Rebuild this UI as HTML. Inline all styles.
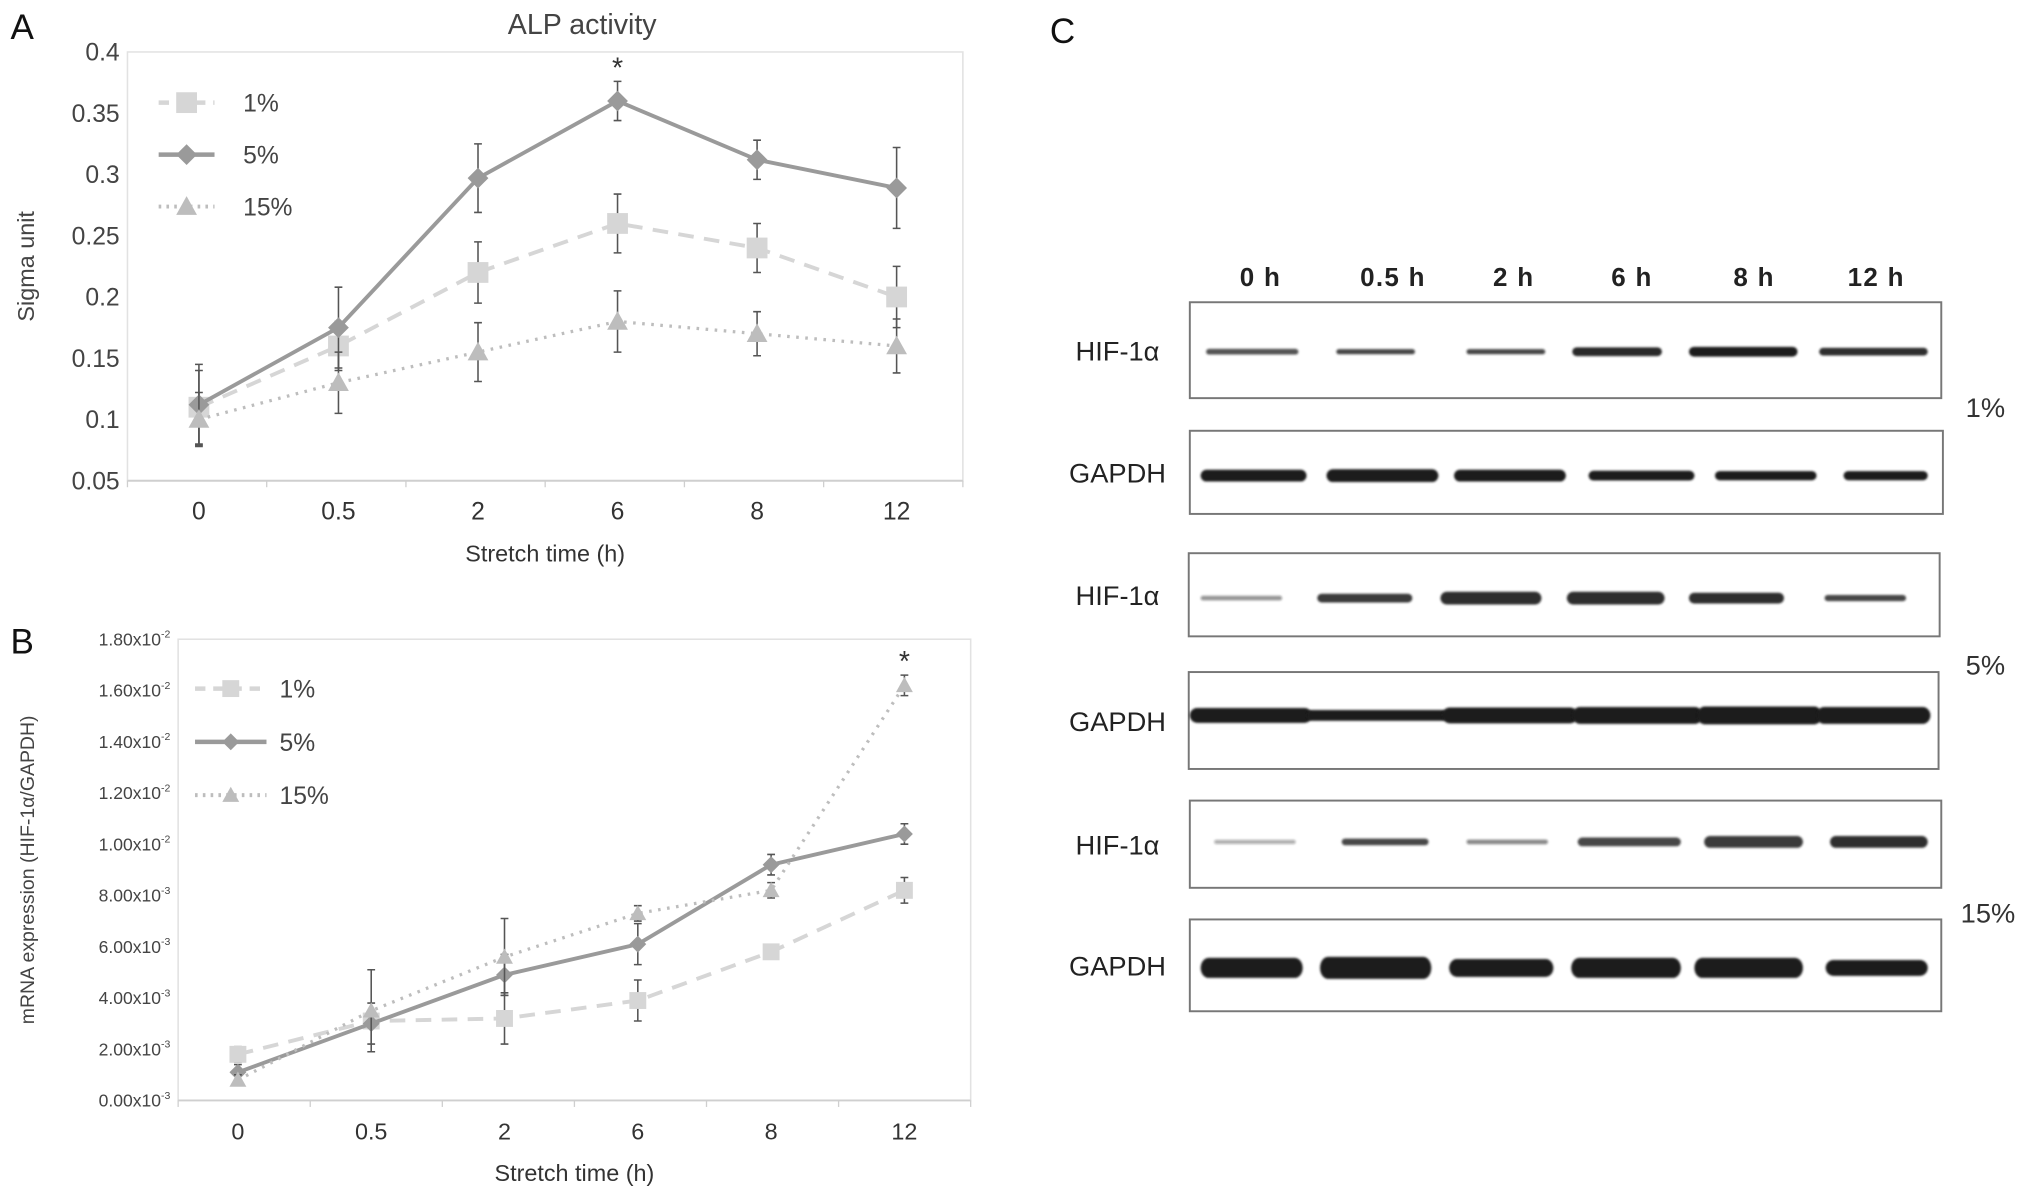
<!DOCTYPE html>
<html><head><meta charset="utf-8"><style>
html,body{margin:0;padding:0;background:#fff;}
svg{display:block;font-family:"Liberation Sans",sans-serif;}
</style></head><body>
<svg id="fig" width="2031" height="1194" viewBox="0 0 1563 919" xmlns="http://www.w3.org/2000/svg">
<defs><filter id="blur" x="-10%" y="-100%" width="120%" height="300%"><feGaussianBlur stdDeviation="0.8"/></filter></defs>
<text x="8" y="30" font-size="27" fill="#111">A</text>
<text x="8" y="503" font-size="27" fill="#111">B</text>
<text x="808" y="33" font-size="27" fill="#111">C</text>
<text x="448" y="26" font-size="22" fill="#444" text-anchor="middle">ALP activity</text>
<g id="chartA"></g>
<g id="chartB"></g>
<g id="blots"></g>
</svg>
<script>
const NS="http://www.w3.org/2000/svg";
function mk(p,tag,at,txt){const e=document.createElementNS(NS,tag);for(const k in at)e.setAttribute(k,at[k]);if(txt!==undefined)e.textContent=txt;p.appendChild(e);return e;}

// ---- data ----
const categories=["0","0.5","2","6","8","12"];
const seriesNames=["1%","5%","15%"];
const alp1=[0.11,0.16,0.22,0.26,0.24,0.20];
const alp5=[0.112,0.175,0.297,0.36,0.312,0.289];
const alp15=[0.10,0.13,0.155,0.18,0.17,0.16];
const alpErr1=[0.03,0.02,0.025,0.024,0.02,0.025];
const alpErr5=[0.033,0.033,0.028,0.016,0.016,0.033];
const alpErr15=[0.022,0.025,0.024,0.025,0.018,0.022];
const alpTicks=[0.05,0.1,0.15,0.2,0.25,0.3,0.35,0.4];
const alpTickLabels=["0.05","0.1","0.15","0.2","0.25","0.3","0.35","0.4"];
const mrna1=[1.8,3.1,3.2,3.9,5.8,8.2];
const mrna5=[1.1,3.0,4.9,6.1,9.2,10.4];
const mrna15=[0.8,3.5,5.6,7.3,8.2,16.2];
const mrnaErr1=[0.3,0.3,1.0,0.8,0.1,0.5];
const mrnaErr5=[0.3,0.8,0.8,0.8,0.4,0.4];
const mrnaErr15=[0.2,1.6,1.5,0.3,0.3,0.4];
const mrnaTicks=[0,2,4,6,8,10,12,14,16,18];
const mrnaTickMant=["0.00","2.00","4.00","6.00","8.00","1.00","1.20","1.40","1.60","1.80"];
const mrnaTickExp=["-3","-3","-3","-3","-3","-2","-2","-2","-2","-2"];

const styles=[{c:"#d6d6d6",w:3,d:"12 8",m:"sq"},{c:"#9a9a9a",w:3,d:"",m:"dia"},{c:"#bdbdbd",w:2.5,d:"2 5",m:"tri"}];

function marker(g,type,x,y,s,col){
  let e;
  if(type==="sq") e=mk(g,"rect",{x:x-s,y:y-s,width:2*s,height:2*s,fill:col});
  else if(type==="dia") e=mk(g,"path",{d:`M${x} ${y-s}L${x+s} ${y}L${x} ${y+s}L${x-s} ${y}Z`,fill:col});
  else e=mk(g,"path",{d:`M${x} ${y-s}L${x+s} ${y+s*0.8}L${x-s} ${y+s*0.8}Z`,fill:col});
  return e;
}

function chart(g,o){
  const xs=i=>o.x0+o.x1st+i*o.step;
  const ys=v=>o.y1+(v-o.vmin)/(o.vmax-o.vmin)*(o.y0-o.y1);
  mk(g,"rect",{x:o.x0,y:o.y0,width:o.x1-o.x0,height:o.y1-o.y0,fill:"none",stroke:"#e2e2e2","stroke-width":1.2});
  const ax=mk(g,"line",{x1:o.x0,y1:o.y1,x2:o.x1,y2:o.y1,stroke:"#cfcfcf","stroke-width":1.5});
  
  
  for(let i=0;i<=categories.length;i++){
    const tx=o.x0+i*(o.x1-o.x0)/categories.length;
    mk(g,"line",{x1:tx,y1:o.y1,x2:tx,y2:o.y1+5,stroke:"#cfcfcf"});
  }
  categories.forEach((c,i)=>{
    const t=mk(g,"text",{x:xs(i),y:o.y1+30,"font-size":o.xfs,fill:"#333","text-anchor":"middle"},c);
    
    
  });
  o.ticks.forEach((v,i)=>{
    const t=mk(g,"text",{x:o.x0-6,y:ys(v)+o.yfs*0.35,"font-size":o.yfs,fill:"#444","text-anchor":"end"});
    
    
    if(o.exp){
      mk(t,"tspan",{},o.labels[i]+"x10");
      mk(t,"tspan",{"font-size":o.yfs*0.6,dy:-6},o.exp[i]);
    } else t.textContent=o.labels[i];
  });
  const xt=mk(g,"text",{x:(o.x0+o.x1)/2,y:o.y1+62,"font-size":18,fill:"#333","text-anchor":"middle"},"Stretch time (h)");
  
  
  const yt=mk(g,"text",{x:0,y:0,"font-size":o.ytfs,fill:"#444","text-anchor":"middle",transform:`translate(${o.ytx},${(o.y0+o.y1)/2}) rotate(-90)`},o.ytitle);
  
  
  o.series.forEach((s,k)=>{
    const st=styles[k];
    const sg=mk(g,"g",{});
    
    
    const pts=s.map((v,i)=>xs(i)+","+ys(v)).join(" ");
    mk(sg,"polyline",{points:pts,fill:"none",stroke:st.c,"stroke-width":st.w,"stroke-dasharray":st.d});
    s.forEach((v,i)=>{
      const e=o.errs[k][i], x=xs(i);
      mk(sg,"path",{d:`M${x} ${ys(v+e)}V${ys(v-e)}M${x-3} ${ys(v+e)}H${x+3}M${x-3} ${ys(v-e)}H${x+3}`,stroke:"#555","stroke-width":1.2,fill:"none"});
      const m=marker(sg,st.m,x,ys(v),o.ms,st.c);
      
      
    });
  });
  o.stars.forEach(([k,i])=>{
    const s=o.series[k][i]+o.errs[k][i];
    mk(g,"text",{x:xs(i),y:ys(s)-3,"font-size":22,fill:"#333","text-anchor":"middle"},"*");
  });
  seriesNames.forEach((n,k)=>{
    const st=styles[k], ly=o.ly+k*o.lsp;
    const lg=mk(g,"g",{});
    
    
    mk(lg,"line",{x1:o.lx,y1:ly,x2:o.lx+o.lw,y2:ly,stroke:st.c,"stroke-width":st.w+0.5,"stroke-dasharray":st.d?(k===0?"8 6":"2 4"):""});
    marker(lg,st.m,o.lx+o.lw/2,ly,o.ms,st.c);
    mk(lg,"text",{x:o.lx+o.lw+o.lgap,y:ly+7,"font-size":19,fill:"#444"},n);
  });
}

chart(document.getElementById("chartA"),{x0:98,x1:741,y0:40,y1:370,x1st:55,step:107.4,vmin:0.05,vmax:0.4,
  ticks:alpTicks,labels:alpTickLabels,xfs:19,yfs:19,ytitle:"Sigma unit",ytfs:18,ytx:26,
  series:[alp1,alp5,alp15],errs:[alpErr1,alpErr5,alpErr15],ms:8,stars:[[1,3]],
  lx:122,lw:43,lgap:22,ly:79,lsp:40});
chart(document.getElementById("chartB"),{x0:137,x1:747,y0:492,y1:847,x1st:46,step:102.6,vmin:0,vmax:18,
  ticks:mrnaTicks,labels:mrnaTickMant,exp:mrnaTickExp,xfs:18,yfs:13.5,ytitle:"mRNA expression (HIF-1α/GAPDH)",ytfs:15,ytx:26,
  series:[mrna1,mrna5,mrna15],errs:[mrnaErr1,mrnaErr5,mrnaErr15],ms:6.5,stars:[[2,5]],
  lx:150,lw:55,lgap:10,ly:530,lsp:41});

// ---- blots ----
const B=document.getElementById("blots");
const lanes=["0 h","0.5 h","2 h","6 h","8 h","12 h"];
const laneX=[970,1072,1165,1256,1350,1444];
lanes.forEach((l,i)=>{const t=mk(B,"text",{x:laneX[i],y:220,"font-size":20,fill:"#222","text-anchor":"middle","font-weight":"bold","letter-spacing":"1"},l);
  
  });
const zx=v=>911.5+v*0.4176, zy=v=>213+(v-50)*0.3926;
const boxes=[[10,1395,100,288,"HIF-1α"],[10,1398,352,515,"GAPDH"],[8,1392,592,755,"HIF-1α"],[8,1390,825,1015,"GAPDH"],[10,1395,1077,1248,"HIF-1α"],[10,1395,1310,1490,"GAPDH"]];
const bandY=[197,440,680,910,1158,1405];
const bands=[
 [[40,210,8,0.75],[280,425,7,0.8],[520,665,7,0.8],[715,880,14,0.95],[930,1130,16,1],[1170,1370,12,0.9]],
 [[30,225,20,1],[262,468,22,1],[497,703,20,1],[745,940,16,1],[978,1165,15,1],[1215,1370,15,1]],
 [[30,180,6,0.45],[245,420,14,0.85],[472,658,22,0.9],[705,885,22,0.9],[930,1105,18,0.9],[1180,1330,9,0.8]],
 [[10,235,26,1],[225,485,18,1],[475,725,28,1],[715,955,30,1],[945,1175,32,1],[1165,1375,30,1]],
 [[55,205,5,0.35],[290,450,10,0.8],[520,670,6,0.5],[725,915,14,0.8],[958,1140,20,0.85],[1190,1370,20,0.9]],
 [[30,218,36,1],[250,455,40,1],[488,680,32,1],[713,915,36,1],[940,1140,36,1],[1182,1370,28,1]]
];
boxes.forEach((b,r)=>{
  const g=mk(B,"g",{});
  
  
  mk(g,"rect",{x:zx(b[0]),y:zy(b[2]),width:zx(b[1])-zx(b[0]),height:zy(b[3])-zy(b[2]),fill:"#fff",stroke:"#777","stroke-width":1.5});
  mk(g,"text",{x:860,y:(zy(b[2])+zy(b[3]))/2+8,"font-size":21,fill:"#222","text-anchor":"middle"},b[4]);
  bands[r].forEach(bd=>{
    const x1=zx(bd[0]), x2=zx(bd[1]), h=bd[2]*0.3926+1.2;
    mk(g,"rect",{x:x1,y:zy(bandY[r])-h/2,width:x2-x1,height:h,rx:Math.min(h/2,6),ry:h/2,fill:"#1a1a1a","fill-opacity":bd[3],filter:"url(#blur)"});
  });
});
[["1%",1528,321],["5%",1528,519],["15%",1530,710]].forEach(p=>{
  const t=mk(B,"text",{x:p[1],y:p[2],"font-size":21,fill:"#333","text-anchor":"middle"},p[0]);
  
  
});
</script>
</body></html>
